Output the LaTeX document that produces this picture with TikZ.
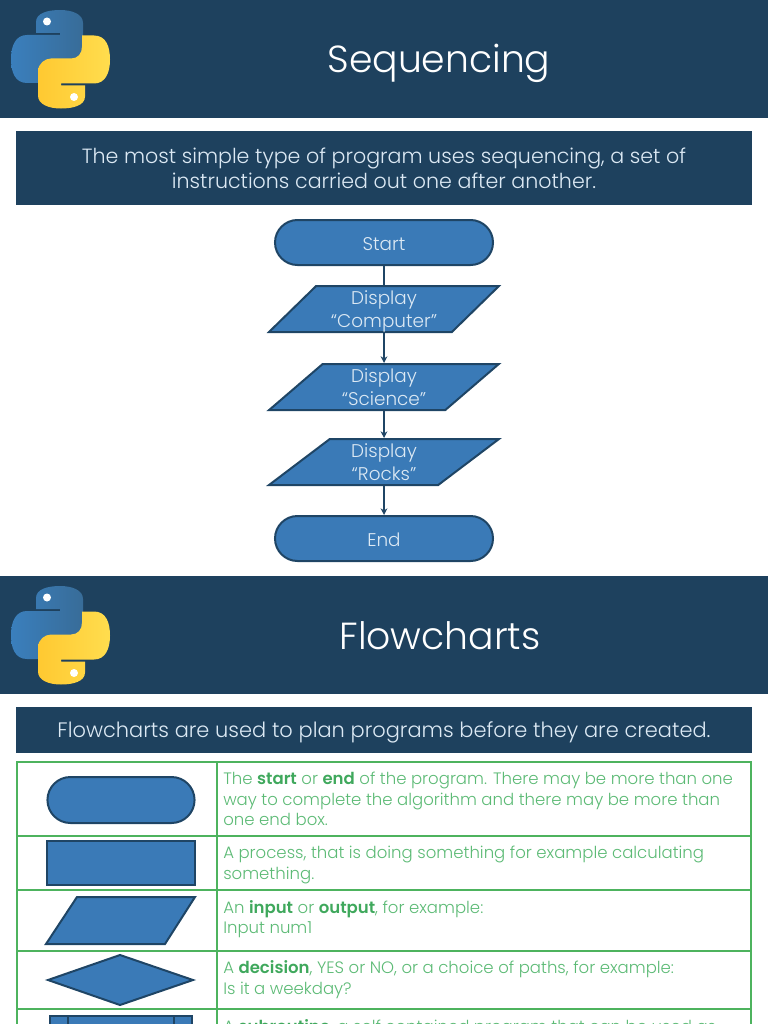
\documentclass[tikz,border=0pt]{standalone}
\usepackage{fontspec}
\setmainfont{Poppins}[UprightFont=* Light, BoldFont=* SemiBold]
\usepackage{xcolor}
\usepackage{tikz}
\usetikzlibrary{shapes.geometric,shapes.misc,arrows.meta}

\definecolor{bandblue}{HTML}{1E415E}
\definecolor{shapeblue}{HTML}{3A7AB7}
\definecolor{shapeline}{HTML}{1F4565}
\definecolor{gridgreen}{HTML}{4DB35E}
\definecolor{textgreen}{HTML}{5CBA75}
\definecolor{boldgreen}{HTML}{3FA85C}
\definecolor{paletext}{HTML}{DCE9F4}
\definecolor{logoblueA}{HTML}{3A7FBD}
\definecolor{logoblueB}{HTML}{386C98}
\definecolor{logoyellowA}{HTML}{FFDD4E}
\definecolor{logoyellowB}{HTML}{FFC931}

\tikzset{
  band/.style={fill=bandblue, draw=none},
  title/.style={anchor=base, text=white, font=\fontsize{28.3}{34}\selectfont},
  lead/.style={text=paletext, align=center, font=\fontsize{15.45}{18.6}\selectfont},
  flowtext/.style={text=paletext, align=center, inner sep=0pt, font=\fontsize{13.8}{17.25}\selectfont,
    execute at begin node=\strut, text depth=0pt},
  terminal/.style={flowtext, rounded rectangle, fill=shapeblue, draw=shapeline, line width=1.5pt,
    minimum width=163.5pt, minimum height=33.75pt},
  iobox/.style={flowtext, trapezium, trapezium left angle=45, trapezium right angle=135,
    trapezium stretches=true, fill=shapeblue, draw=shapeline, line width=1.5pt,
    minimum width=172.5pt, minimum height=34.5pt},
  rowtext/.style={anchor=west, inner sep=0pt, align=left, text=textgreen,
    font=\fontsize{12.4}{15.4}\selectfont},
  symbol/.style={fill=shapeblue, draw=shapeline, line width=1.5pt},
  gridline/.style={draw=gridgreen, line width=1pt},
  flow/.style={draw=shapeline, line width=1.3pt},
  snakepath/.style={insert path={
    (36,33) -- (36,22) .. controls (36,13) and (48,10) .. (60,10)
    .. controls (72,10) and (83,14) .. (83,23) -- (83,47)
    .. controls (83,55) and (76,60) .. (70,60) -- (50,60)
    .. controls (43,60) and (39,65) .. (39,72) -- (39,83) -- (27,83)
    .. controls (15,83) and (11,72) .. (11,59)
    .. controls (11,45) and (16,35) .. (27,35) -- (60,35) -- (60,33) -- cycle}},
  pylogo/.pic={
    \shade[left color=logoblueA, right color=logoblueB, snakepath];
    \shade[rotate around={180:(60.5,59.25)}, left color=logoyellowB, right color=logoyellowA, snakepath];
    \fill[white] (47,21.5) circle (4);
    \fill[white] (74,97) circle (4);
  }
}
\newcommand{\hl}[1]{\textcolor{boldgreen}{\textbf{#1}}}

\begin{document}
\begin{tikzpicture}[x=0.75pt, y=-0.75pt, >={Stealth[length=5pt,width=5pt]}]
  \useasboundingbox (0,0) rectangle (768,1024);
  \clip (0,0) rectangle (768,1024);

  % --- first slide ---
  \fill[band] (0,0) rectangle (768,118);
  \pic at (0,0) {pylogo};
  \node[title] (seqtitle) at (439,73) {Sequencing};
  \fill[band] (16,131) rectangle (752,205);
  \node[lead] (seqlead) at (384,168) {The most simple type of program uses sequencing, a set of\\instructions carried out one after another.};

  \node[terminal] (start) at (384,242.5) {Start};
  \node[iobox] (computer) at (384,309) {Display\\“Computer”};
  \node[iobox] (science) at (384,387) {Display\\“Science”};
  \node[iobox] (rocks) at (384,462) {Display\\“Rocks”};
  \node[terminal] (end) at (384,538.5) {End};
  \draw[flow] (start) -- (computer);
  \draw[flow, ->] (computer) -- (science);
  \draw[flow, ->] (science) -- (rocks);
  \draw[flow, ->] (rocks) -- (end);

  % --- second slide ---
  \fill[band] (0,576) rectangle (768,694);
  \pic at (0,576) {pylogo};
  \node[title] (flowtitle) at (440,649) {Flowcharts};
  \fill[band] (16,707) rectangle (752,753);
  \node[lead, font=\fontsize{15.7}{18.6}\selectfont] (flowlead) at (384,732) {Flowcharts are used to plan programs before they are created.};

  % --- table of symbols ---
  \draw[gridline] (17,762) rectangle (751,1040);
  \draw[gridline] (217,762) -- (217,1040);
  \foreach \y in {836,890,951,1009}
    \draw[gridline] (17,\y) -- (751,\y);

  \node[rounded rectangle, symbol, minimum width=117pt, minimum height=34.5pt] (symstart) at (121,800) {};
  \node[rectangle, symbol, minimum width=111pt, minimum height=33pt] (symproc) at (121,863) {};
  \draw[symbol] (46,944) -- (77,897) -- (195,897) -- (165,944) -- cycle;
  \draw[symbol] (48,980) -- (120,955) -- (193,980) -- (120,1005) -- cycle;
  \draw[symbol] (50,1016) rectangle (192,1050);
  \foreach \x in {68,174}
    \draw[symbol] (\x,1016) -- (\x,1050);

  \node[rowtext] (rowa) at (223,799) {The \hl{start} or \hl{end} of the program. There may be more than one\\way to complete the algorithm and there may be more than\\one end box.};
  \node[rowtext] (rowb) at (223,865) {A process, that is doing something for example calculating\\something.};
  \node[rowtext] (rowc) at (223,919) {An \hl{input} or \hl{output}, for example:\\Input num1};
  \node[rowtext] (rowd) at (223,979.5) {A \hl{decision}, YES or NO, or a choice of paths, for example:\\Is it a weekday?};
  \node[rowtext] (rowe) at (223,1028) {A \hl{subroutine}, a self contained program that can be used as};
\end{tikzpicture}
\end{document}
